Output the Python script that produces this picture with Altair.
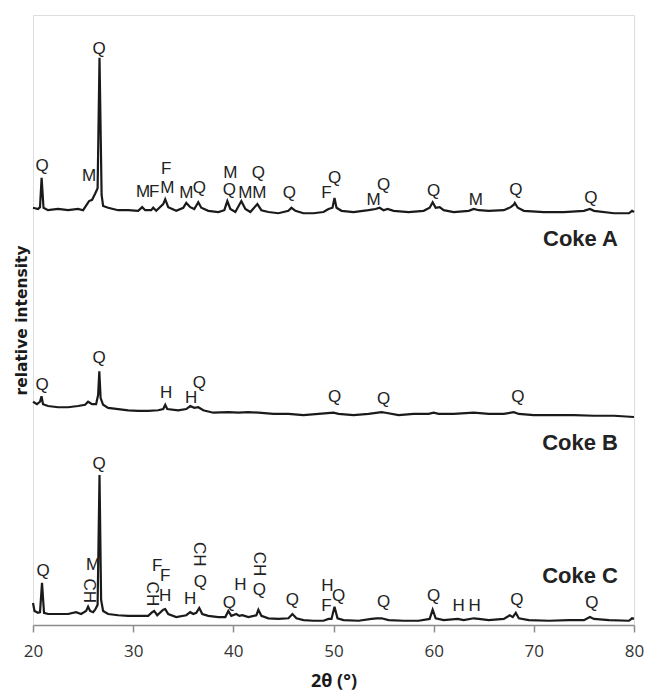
import altair as alt
import pandas as pd

# ---- XRD traces (2theta, plotted relative intensity incl. stacking offset) ----
a_2t = [20.0, 20.5, 20.7, 20.86, 21.05, 21.5, 22.5, 23.5, 24.5, 25.0, 25.4, 25.6, 25.9, 26.2, 26.45,
        26.64, 26.85, 27.0, 27.5, 28.5, 29.5, 30.5, 30.9, 31.2, 31.8, 32.0, 32.3, 33.0, 33.2, 33.5,
        34.3, 35.0, 35.3, 35.7, 36.1, 36.5, 36.8, 37.5, 38.5, 39.1, 39.4, 39.7, 40.2, 40.8, 41.2,
        41.7, 42.4, 42.8, 43.5, 44.5, 45.5, 45.8, 46.2, 47.0, 48.0, 49.0, 49.5, 49.9, 50.1, 50.3,
        50.8, 52.0, 53.5, 54.2, 54.6, 55.0, 55.4, 56.0, 57.5, 59.0, 59.6, 59.9, 60.2, 60.6, 61.0,
        62.0, 63.5, 64.0, 64.5, 65.5, 67.0, 67.7, 68.0, 68.1, 68.4, 69.0, 71.0, 73.0, 75.0, 75.6,
        76.0, 78.0, 79.5, 79.8, 80.0]
a_int = [68.4, 68.2, 68.5, 73.3, 68.4, 68.0, 68.2, 68.0, 68.2, 68.0, 69.0, 69.5, 69.7, 70.7, 71.6,
         93.0, 70.5, 68.7, 68.4, 68.0, 68.0, 67.9, 68.5, 68.0, 68.0, 68.4, 67.9, 69.0, 69.8, 68.5,
         67.9, 68.4, 69.2, 68.5, 68.2, 69.3, 68.4, 67.9, 67.7, 68.0, 69.5, 68.2, 67.7, 69.5, 68.2,
         67.7, 69.0, 68.0, 67.7, 67.5, 67.9, 68.4, 67.9, 67.5, 67.5, 67.7, 68.2, 68.4, 70.0, 68.4,
         67.9, 67.7, 68.0, 68.2, 68.4, 68.0, 68.2, 67.9, 67.7, 67.9, 68.4, 69.3, 68.4, 68.5, 68.0,
         67.7, 67.9, 68.2, 68.0, 67.9, 68.0, 68.5, 68.9, 69.2, 68.4, 67.9, 67.7, 67.7, 67.9, 68.2,
         67.9, 67.5, 67.5, 67.9, 67.7]

b_2t = [20.0, 20.4, 20.7, 20.85, 21.0, 21.5, 22.5, 23.5, 24.5, 25.2, 25.5, 25.9, 26.3, 26.5, 26.62,
        26.75, 27.0, 27.5, 28.5, 29.5, 30.5, 31.5, 32.5, 33.0, 33.2, 33.4, 34.5, 35.3, 35.7, 36.1,
        36.5, 37.0, 38.0, 39.5, 40.5, 41.5, 42.5, 44.0, 45.5, 47.0, 48.5, 50.0, 50.5, 52.0, 53.5,
        54.8, 55.2, 56.5, 58.0, 59.5, 60.0, 60.5, 62.0, 64.0, 65.5, 67.0, 68.0, 68.5, 70.0, 72.0,
        74.0, 76.0, 78.0, 80.0]
b_int = [36.6, 36.2, 36.6, 37.5, 36.2, 35.9, 35.7, 35.7, 35.9, 36.1, 36.6, 36.2, 36.2, 37.7, 41.6,
         37.2, 36.1, 35.6, 35.4, 35.2, 35.1, 35.1, 35.2, 35.4, 36.1, 35.4, 35.2, 35.4, 35.9, 35.6,
         35.7, 35.2, 34.8, 34.9, 34.8, 34.9, 34.8, 34.6, 34.6, 34.4, 34.6, 34.8, 34.6, 34.4, 34.6,
         34.9, 34.8, 34.4, 34.6, 34.6, 34.8, 34.6, 34.6, 34.8, 34.6, 34.6, 34.9, 34.6, 34.4, 34.4,
         34.4, 34.3, 34.3, 34.1]

c_2t = [20.0, 20.15, 20.5, 20.7, 20.9, 21.1, 21.5, 22.5, 23.5, 24.3, 24.8, 25.3, 25.5, 25.7, 26.0,
        26.2, 26.45, 26.64, 26.8, 27.0, 27.5, 28.5, 29.5, 30.5, 31.5, 31.9, 32.1, 32.4, 33.0, 33.2,
        33.5, 34.3, 35.3, 35.7, 36.0, 36.3, 36.6, 36.9, 37.5, 38.5, 39.2, 39.5, 39.8, 40.3, 40.6,
        40.9, 41.5, 42.3, 42.5, 42.8, 43.5, 44.5, 45.5, 45.9, 46.3, 47.0, 48.0, 49.0, 49.5, 49.8,
        50.1, 50.4, 51.0, 52.5, 53.8, 54.3, 54.8, 55.5, 57.0, 58.5, 59.6, 59.9, 60.2, 61.0, 62.4,
        63.0, 64.0, 64.5, 65.5, 67.0, 67.6, 67.9, 68.2, 68.5, 69.5, 71.5, 73.5, 75.0, 75.6, 76.0,
        77.5, 79.5, 79.8, 80.0]
c_int = [3.6, 2.3, 2.0, 2.1, 6.9, 2.0, 1.8, 1.8, 1.8, 2.1, 1.8, 2.3, 3.0, 2.3, 2.1,
         2.5, 3.3, 24.6, 4.1, 2.3, 1.8, 1.6, 1.5, 1.5, 1.5, 2.1, 2.3, 1.6, 2.5, 2.6,
         1.8, 1.3, 1.6, 2.1, 1.8, 2.0, 2.8, 1.8, 1.5, 1.3, 1.3, 2.3, 1.5, 1.8, 1.5,
         1.6, 1.3, 1.6, 2.5, 1.5, 1.1, 1.0, 1.1, 1.8, 1.1, 0.8, 0.7, 0.7, 1.0, 1.0,
         3.0, 1.1, 0.8, 0.7, 1.0, 1.1, 1.1, 0.8, 0.7, 0.7, 1.0, 2.5, 1.1, 0.8, 1.0,
         0.8, 1.1, 1.0, 0.8, 1.0, 1.6, 1.3, 2.0, 1.1, 0.8, 0.7, 0.8, 0.8, 1.3, 1.0,
         0.8, 0.7, 1.1, 1.0]

# ---- phase labels (2theta, height, text) ----
lab_2t = [20.9, 26.6, 25.6, 31.0, 32.1, 33.3, 33.4, 35.3, 36.6, 39.7, 39.6, 41.2, 42.6, 42.5, 45.6,
          49.3, 50.1, 54.0, 55.0, 60.0, 64.2, 68.2, 75.7,
          20.9, 26.6, 33.3, 35.8, 36.6, 50.1, 55.0, 68.4,
          21.0, 26.6, 26.0, 32.4, 33.2, 33.2, 35.7, 36.7, 39.6, 40.7, 42.6, 45.9, 49.4, 49.3,
          50.5, 55.0, 60.0, 62.5, 64.1, 68.3, 75.8]
lab_int = [75.2, 94.4, 73.6, 71.0, 71.0, 74.8, 71.6, 70.8, 71.6, 74.1, 71.3, 70.8, 70.8, 74.1, 70.8,
           70.8, 73.3, 69.7, 72.1, 71.1, 69.7, 71.3, 70.0,
           39.3, 43.8, 38.0, 37.2, 39.7, 37.4, 37.0, 37.4,
           8.9, 26.4, 9.8, 9.6, 8.0, 4.8, 4.3, 7.0, 3.6, 6.6, 5.7, 4.1, 6.4, 3.1,
           4.8, 3.8, 4.8, 3.1, 3.1, 4.1, 3.6]
lab_txt = ["Q", "Q", "M", "M", "F", "F", "M", "M", "Q", "M", "Q", "M", "M", "Q", "Q",
           "F", "Q", "M", "Q", "Q", "M", "Q", "Q",
           "Q", "Q", "H", "H", "Q", "Q", "Q", "Q",
           "Q", "Q", "M", "F", "F", "H", "H", "Q", "Q", "H", "Q", "Q", "H", "F",
           "Q", "Q", "Q", "H", "H", "Q", "Q"]

# vertical (rotated) CH labels
ch_2t = [25.6, 31.9, 36.6, 42.6]
ch_int = [5.6, 5.1, 11.6, 10.0]
ch_txt = ["CH", "CH", "CH", "CH"]

# sample names
name_2t = [78.4, 78.4, 78.4]
name_int = [63.2, 29.8, 8.1]
name_txt = ["Coke A", "Coke B", "Coke C"]

trace = pd.DataFrame({
    "t": a_2t + b_2t + c_2t,
    "i": a_int + b_int + c_int,
    "s": ["A"] * len(a_2t) + ["B"] * len(b_2t) + ["C"] * len(c_2t),
})
labels = pd.DataFrame({"t": lab_2t, "i": lab_int, "txt": lab_txt})
chl = pd.DataFrame({"t": ch_2t, "i": ch_int, "txt": ch_txt})
names = pd.DataFrame({"t": name_2t, "i": name_int, "txt": name_txt})

xs = alt.Scale(domain=[20, 80], nice=False, zero=False)
ys = alt.Scale(domain=[0, 100], nice=False, zero=False)

xaxis = alt.Axis(values=[20, 30, 40, 50, 60, 70, 80], title="2θ (°)", grid=False,
                 domainColor="#8c8c8c", domainWidth=1.5, tickColor="#8c8c8c", tickWidth=1.5,
                 tickSize=7, labelFlush=False, labelFont="Open Sans", labelFontSize=17,
                 labelColor="#333333", labelPadding=11, titleFont="Open Sans", titleFontSize=18,
                 titleFontWeight="bold", titleColor="#1a1a1a", titlePadding=13)
yaxis = alt.Axis(title="relative intensity", labels=False, ticks=False, domain=False, grid=False,
                 titleFont="DejaVu Sans", titleFontSize=15.5, titleFontWeight="bold",
                 titleColor="#1a1a1a", titlePadding=4)

line = alt.Chart(trace).mark_line(color="#1a1a1a", strokeWidth=2.2).encode(
    x=alt.X("t:Q", scale=xs, axis=xaxis),
    y=alt.Y("i:Q", scale=ys, axis=yaxis),
    detail="s:N",
)

txt = alt.Chart(labels).mark_text(font="Liberation Sans", fontSize=17, color="#222222",
                                   baseline="middle", align="center").encode(
    x=alt.X("t:Q", scale=xs), y=alt.Y("i:Q", scale=ys), text="txt:N")

chtxt = alt.Chart(chl).mark_text(font="Liberation Sans", fontSize=17, color="#222222",
                                  baseline="middle", align="center", angle=90).encode(
    x=alt.X("t:Q", scale=xs), y=alt.Y("i:Q", scale=ys), text="txt:N")

ntxt = alt.Chart(names).mark_text(font="Liberation Sans", fontSize=22, fontWeight="bold",
                                   color="#222222", baseline="middle", align="right").encode(
    x=alt.X("t:Q", scale=xs), y=alt.Y("i:Q", scale=ys), text="txt:N")

chart = alt.layer(line, txt, chtxt, ntxt).properties(
    width=601, height=610,
    autosize=alt.AutoSizeParams(type="none"),
    padding={"left": 33, "top": 15, "right": 14, "bottom": 68},
).configure_view(stroke="#8c8c8c", strokeWidth=1.5).configure(background="white")

chart.save("out.html", embed_options={"renderer": "svg", "actions": False})
